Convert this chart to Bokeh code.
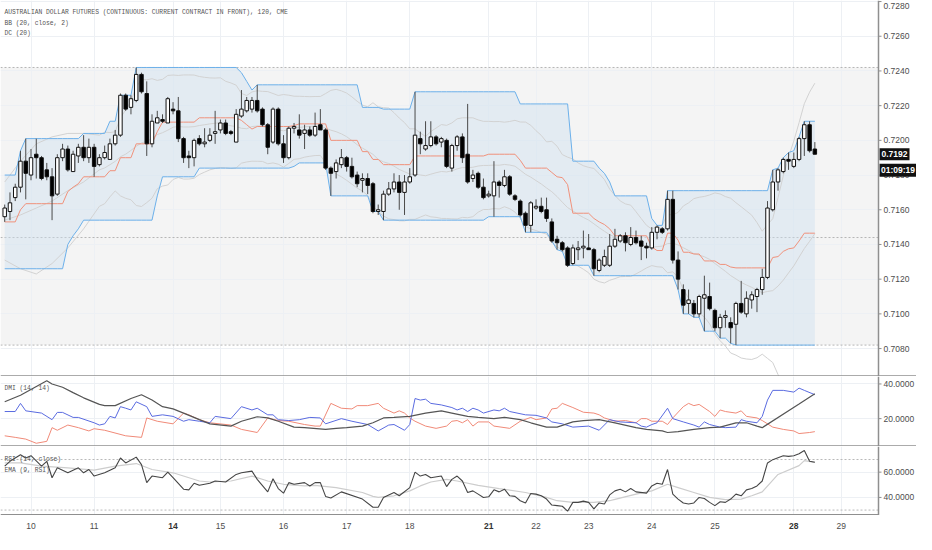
import pandas as pd
from bokeh.plotting import figure
from bokeh.layouts import column
from bokeh.models import (Range1d, FixedTicker, Span, BoxAnnotation, Label, ColumnDataSource)
from bokeh.core.properties import value
from bokeh.embed import file_html
from bokeh.resources import INLINE

# ---------------- data ----------------
opens = [
0.7156,0.7159,0.7167,0.7173,0.7188,0.7180,0.7192,0.7190,0.7183,0.7179,
0.7169,0.7190,0.7195,0.7182,0.7191,0.7196,0.7190,0.7196,0.7186,0.7190,
0.7189,0.7198,0.7203,0.7226,0.7219,0.7223,0.7238,0.7227,0.7198,0.7210,
0.7212,0.7210,0.7218,0.7217,0.7201,0.7191,0.7190,0.7201,0.7198,0.7200,
0.7204,0.7206,0.7210,0.7205,0.7199,0.7214,0.7217,0.7218,0.7223,0.7218,
0.7209,0.7199,0.7218,0.7198,0.7190,0.7207,0.7206,0.7204,0.7206,0.7203,
0.7209,0.7206,0.7184,0.7182,0.7186,0.7190,0.7185,0.7180,0.7177,0.7178,
0.7175,0.7159,0.7159,0.7169,0.7172,0.7176,0.7170,0.7176,0.7180,0.7201,
0.7195,0.7197,0.7202,0.7199,0.7200,0.7184,0.7197,0.7202,0.7192,0.7178,
0.7181,0.7173,0.7168,0.7168,0.7176,0.7174,0.7179,0.7168,0.7165,0.7158,
0.7151,0.7161,0.7162,0.7160,0.7153,0.7143,0.7141,0.7138,0.7129,0.7137,
0.7138,0.7138,0.7137,0.7125,0.7128,0.7128,0.7139,0.7142,0.7145,0.7140,
0.7144,0.7142,0.7139,0.7138,0.7147,0.7149,0.7149,0.7166,0.7131,0.7114,
0.7106,0.7106,0.7100,0.7109,0.7110,0.7102,0.7092,0.7098,0.7095,0.7094,
0.7106,0.7100,0.7108,0.7110,0.7114,0.7121,0.7160,0.7176,0.7182,0.7189,
0.7185,0.7189,0.7201,0.7209,0.7195]
highs = [
0.7163,0.7170,0.7175,0.7194,0.7201,0.7195,0.7201,0.7191,0.7187,0.7184,
0.7192,0.7198,0.7197,0.7194,0.7198,0.7203,0.7201,0.7198,0.7192,0.7197,
0.7201,0.7206,0.7227,0.7227,0.7226,0.7242,0.7239,0.7234,0.7215,0.7217,
0.7215,0.7225,0.7222,0.7225,0.7202,0.7194,0.7201,0.7203,0.7207,0.7207,
0.7217,0.7212,0.7212,0.7206,0.7218,0.7229,0.7225,0.7225,0.7232,0.7219,
0.7210,0.7219,0.7219,0.7203,0.7208,0.7210,0.7215,0.7209,0.7208,0.7216,
0.7218,0.7207,0.7185,0.7189,0.7195,0.7191,0.7190,0.7182,0.7181,0.7181,
0.7176,0.7163,0.7171,0.7176,0.7181,0.7180,0.7180,0.7184,0.7228,0.7205,
0.7211,0.7211,0.7203,0.7202,0.7201,0.7198,0.7203,0.7204,0.7221,0.7183,
0.7182,0.7178,0.7171,0.7188,0.7177,0.7183,0.7180,0.7169,0.7166,0.7159,
0.7165,0.7166,0.7167,0.7167,0.7155,0.7145,0.7142,0.7139,0.7140,0.7142,
0.7148,0.7146,0.7138,0.7132,0.7137,0.7146,0.7149,0.7146,0.7147,0.7150,
0.7148,0.7145,0.7141,0.7150,0.7151,0.7150,0.7171,0.7171,0.7136,0.7117,
0.7114,0.7108,0.7111,0.7122,0.7118,0.7103,0.7100,0.7102,0.7098,0.7107,
0.7119,0.7113,0.7113,0.7115,0.7126,0.7165,0.7183,0.7184,0.7190,0.7193,
0.7193,0.7202,0.7211,0.7211,0.7199]
lows = [
0.7153,0.7154,0.7165,0.7170,0.7166,0.7177,0.7178,0.7177,0.7177,0.7154,
0.7168,0.7188,0.7182,0.7182,0.7187,0.7188,0.7187,0.7179,0.7185,0.7189,
0.7189,0.7197,0.7202,0.7217,0.7215,0.7222,0.7227,0.7191,0.7196,0.7210,
0.7210,0.7210,0.7215,0.7199,0.7187,0.7184,0.7185,0.7197,0.7196,0.7199,
0.7198,0.7204,0.7203,0.7203,0.7199,0.7213,0.7216,0.7216,0.7216,0.7208,
0.7192,0.7198,0.7197,0.7187,0.7189,0.7204,0.7201,0.7195,0.7202,0.7202,
0.7206,0.7183,0.7168,0.7178,0.7184,0.7182,0.7178,0.7173,0.7170,0.7169,
0.7158,0.7157,0.7154,0.7168,0.7170,0.7160,0.7157,0.7175,0.7179,0.7192,
0.7194,0.7196,0.7197,0.7196,0.7184,0.7182,0.7194,0.7187,0.7175,0.7176,
0.7172,0.7166,0.7167,0.7156,0.7167,0.7173,0.7168,0.7165,0.7156,0.7147,
0.7147,0.7160,0.7158,0.7153,0.7141,0.7137,0.7136,0.7127,0.7128,0.7131,
0.7132,0.7137,0.7122,0.7124,0.7127,0.7127,0.7138,0.7141,0.7136,0.7139,
0.7140,0.7131,0.7132,0.7137,0.7143,0.7146,0.7148,0.7129,0.7114,0.7100,
0.7100,0.7098,0.7098,0.7090,0.7102,0.7090,0.7086,0.7092,0.7083,0.7082,
0.7100,0.7098,0.7103,0.7101,0.7111,0.7120,0.7159,0.7171,0.7181,0.7183,
0.7184,0.7188,0.7191,0.7193,0.7192]
closes = [
0.7161,0.7164,0.7173,0.7188,0.7181,0.7190,0.7190,0.7178,0.7179,0.7168,
0.7190,0.7195,0.7183,0.7192,0.7196,0.7190,0.7196,0.7185,0.7190,0.7193,
0.7198,0.7203,0.7226,0.7218,0.7224,0.7238,0.7228,0.7198,0.7211,0.7213,
0.7211,0.7224,0.7217,0.7201,0.7190,0.7190,0.7200,0.7198,0.7199,0.7203,
0.7205,0.7210,0.7204,0.7204,0.7215,0.7218,0.7223,0.7223,0.7217,0.7209,
0.7196,0.7218,0.7198,0.7190,0.7207,0.7208,0.7203,0.7206,0.7203,0.7208,
0.7206,0.7184,0.7181,0.7187,0.7190,0.7185,0.7179,0.7175,0.7178,0.7174,
0.7159,0.7160,0.7169,0.7172,0.7176,0.7170,0.7176,0.7179,0.7203,0.7198,
0.7197,0.7202,0.7198,0.7201,0.7185,0.7197,0.7202,0.7190,0.7176,0.7180,
0.7173,0.7167,0.7169,0.7176,0.7174,0.7179,0.7169,0.7166,0.7157,0.7151,
0.7164,0.7162,0.7159,0.7155,0.7142,0.7141,0.7137,0.7128,0.7138,0.7138,
0.7139,0.7137,0.7126,0.7131,0.7133,0.7139,0.7143,0.7145,0.7141,0.7144,
0.7141,0.7139,0.7138,0.7147,0.7150,0.7147,0.7166,0.7131,0.7120,0.7105,
0.7108,0.7100,0.7110,0.7111,0.7103,0.7092,0.7098,0.7099,0.7092,0.7106,
0.7101,0.7109,0.7111,0.7114,0.7121,0.7161,0.7176,0.7183,0.7189,0.7188,
0.7189,0.7201,0.7209,0.7194,0.7192]

# Donchian channel (20) upper / lower, read per bar
dc_upper = [
0.7180,0.7180,0.7180,0.7194,0.7201,0.7201,0.7201,0.7201,0.7201,0.7201,
0.7201,0.7201,0.7201,0.7201,0.7201,0.7204,0.7204,0.7204,0.7204,0.7204,
0.7211,0.7211,0.7226,0.7226,0.7226,0.7242,0.7242,0.7242,0.7242,0.7242,
0.7242,0.7242,0.7242,0.7242,0.7242,0.7242,0.7242,0.7242,0.7242,0.7242,
0.7242,0.7242,0.7242,0.7242,0.7242,0.7239,0.7234,0.7229,0.7232,0.7232,
0.7232,0.7232,0.7232,0.7232,0.7232,0.7232,0.7232,0.7232,0.7232,0.7232,
0.7232,0.7232,0.7232,0.7232,0.7232,0.7232,0.7232,0.7232,0.7219,0.7219,
0.7219,0.7219,0.7218,0.7218,0.7218,0.7218,0.7218,0.7218,0.7228,0.7228,
0.7228,0.7228,0.7228,0.7228,0.7228,0.7228,0.7228,0.7228,0.7228,0.7228,
0.7228,0.7228,0.7228,0.7228,0.7228,0.7228,0.7228,0.7228,0.7221,0.7221,
0.7221,0.7221,0.7221,0.7221,0.7221,0.7221,0.7221,0.7221,0.7188,0.7188,
0.7188,0.7188,0.7188,0.7184,0.7181,0.7176,0.7168,0.7168,0.7168,0.7168,
0.7168,0.7168,0.7168,0.7155,0.7151,0.7151,0.7171,0.7171,0.7171,0.7171,
0.7171,0.7171,0.7171,0.7171,0.7171,0.7171,0.7171,0.7171,0.7171,0.7171,
0.7171,0.7171,0.7171,0.7171,0.7171,0.7171,0.7183,0.7184,0.7190,0.7193,
0.7194,0.7202,0.7211,0.7211,0.7211]
dc_lower = [
0.7126,0.7126,0.7126,0.7126,0.7126,0.7126,0.7126,0.7126,0.7126,0.7126,
0.7126,0.7126,0.7140,0.7145,0.7149,0.7154,0.7154,0.7154,0.7154,0.7154,
0.7154,0.7154,0.7154,0.7154,0.7154,0.7154,0.7154,0.7154,0.7154,0.7168,
0.7179,0.7179,0.7179,0.7179,0.7179,0.7179,0.7179,0.7184,0.7184,0.7184,
0.7184,0.7184,0.7184,0.7184,0.7184,0.7184,0.7184,0.7184,0.7184,0.7184,
0.7184,0.7184,0.7184,0.7184,0.7184,0.7185,0.7187,0.7187,0.7187,0.7187,
0.7187,0.7187,0.7168,0.7168,0.7168,0.7168,0.7168,0.7168,0.7168,0.7168,
0.7159,0.7159,0.7154,0.7154,0.7154,0.7154,0.7154,0.7154,0.7154,0.7154,
0.7154,0.7154,0.7154,0.7154,0.7154,0.7154,0.7154,0.7154,0.7154,0.7154,
0.7154,0.7154,0.7156,0.7156,0.7156,0.7156,0.7156,0.7156,0.7156,0.7147,
0.7147,0.7147,0.7147,0.7147,0.7142,0.7137,0.7136,0.7128,0.7128,0.7128,
0.7128,0.7128,0.7122,0.7122,0.7122,0.7122,0.7122,0.7122,0.7122,0.7122,
0.7122,0.7122,0.7122,0.7122,0.7122,0.7122,0.7122,0.7122,0.7114,0.7100,
0.7100,0.7098,0.7098,0.7090,0.7090,0.7090,0.7086,0.7086,0.7083,0.7082,
0.7082,0.7082,0.7082,0.7082,0.7082,0.7082,0.7082,0.7082,0.7082,0.7082,
0.7082,0.7082,0.7082,0.7082,0.7082]

# Bollinger values visible at the left edge (before 20 bars of history)
bb_head_idx = [0, 3, 6, 9, 12, 15, 18]
bb_head_mid = [0.7154, 0.7157, 0.7161, 0.7165, 0.7171, 0.7176, 0.7183]
bb_head_up  = [0.7176, 0.7188, 0.7198, 0.7202, 0.7204, 0.7204, 0.7203]
bb_head_lo  = [0.7131, 0.7126, 0.7123, 0.7129, 0.7138, 0.7149, 0.7162]

# DMI (14, 14)
adx_idx = [0,3,8,9,11,13,15,18,19,21,24,26,28,30,32,34,37,39,43,45,48,50,52,55,57,61,63,65,68,70,
           72,74,77,80,83,85,88,90,93,95,98,100,103,105,108,110,113,116,120,122,125,126,128,131,134,136,
           139,141,143,144,151,154]
adx = [29.7,33.5,41.9,40.0,38.1,35.0,32.0,28.2,27.5,27.5,31.6,33.8,30.7,26.9,25.6,23.2,19.4,17.0,15.7,18.5,
       21.1,20.4,18.5,15.1,14.8,13.8,14.4,14.8,15.7,17.6,20.4,20.7,21.3,23.2,24.5,23.2,21.3,20.7,20.0,20.7,
       19.4,17.6,15.1,15.1,18.1,18.9,19.4,17.6,14.8,13.8,12.9,12.0,12.5,13.8,14.8,15.1,17.6,17.6,15.7,14.8,
       28.5,34.4]
pdi_idx = [0,2,3,4,7,9,10,11,13,14,17,18,19,20,21,22,23,24,25,27,28,30,32,34,35,37,39,40,43,45,47,48,
           50,51,52,54,56,58,60,61,64,66,69,71,73,74,76,77,78,79,80,81,83,85,86,87,88,89,90,91,93,94,95,
           96,99,101,103,104,106,108,111,113,115,117,120,121,122,123,124,126,127,129,131,132,133,134,136,
           137,139,140,141,143,144,145,146,148,150,151,152,154]
pdi = [24.1,24.1,28.8,24.5,23.2,19.4,23.6,23.6,20.7,20.7,17.6,16.3,17.0,21.3,20.4,26.9,26.0,25.0,29.7,26.9,
       21.3,22.2,21.3,18.5,19.4,18.5,17.6,21.3,20.0,26.9,25.0,26.0,22.2,22.2,19.4,18.9,19.4,20.7,20.4,17.0,
       20.0,18.5,16.6,12.9,16.3,16.6,13.3,16.6,31.6,30.7,31.2,28.8,27.9,26.4,25.0,26.0,24.1,26.0,25.0,23.2,
       25.0,24.5,26.0,24.1,22.2,21.9,20.4,18.1,17.0,15.1,15.7,13.3,19.4,18.1,17.6,15.7,15.1,16.6,17.6,26.0,
       20.0,18.1,16.3,15.1,18.1,16.6,15.1,14.8,15.1,19.4,18.5,17.6,21.3,30.7,36.3,36.3,35.3,37.6,36.3,33.8]
mdi_idx = [0,2,4,6,8,9,10,12,14,16,17,19,23,26,27,29,32,34,35,37,39,43,45,48,50,52,54,57,59,60,62,64,
           66,67,69,71,72,74,75,76,77,78,80,82,84,85,86,87,88,89,90,92,93,96,98,100,101,103,104,105,106,
           108,110,112,113,114,116,118,120,121,122,123,125,126,127,129,130,131,132,134,135,136,137,139,
           140,141,143,144,146,148,150,151,153,154]
mdi = [10.1,9.2,8.2,5.8,6.9,14.8,13.3,16.3,14.8,12.9,14.2,13.3,10.1,9.2,20.4,18.5,17.0,23.2,22.2,19.4,
       17.6,16.3,13.8,12.0,20.4,18.9,18.5,16.6,15.7,15.7,28.8,26.0,25.6,27.5,27.5,28.8,26.0,23.2,24.5,23.2,
       20.4,18.5,15.7,14.4,15.7,18.5,18.9,17.6,19.4,15.7,18.1,18.1,15.7,14.4,18.5,20.7,19.4,20.4,25.6,26.0,
       28.8,26.4,23.7,23.2,22.2,20.4,18.5,18.9,17.6,20.0,20.0,18.5,18.5,16.6,20.4,26.9,28.8,27.5,28.2,24.1,
       21.3,25.0,24.1,23.2,24.5,21.3,20.4,18.9,15.1,13.8,12.9,11.4,12.0,12.5]

# RSI (14, close) and EMA (9, RSI)
rsi_idx = [0,1,3,4,5,7,8,9,10,12,14,15,16,17,19,21,22,23,25,26,27,28,30,31,32,34,35,36,37,39,40,42,44,
           45,47,48,50,51,52,53,54,55,57,58,59,60,61,62,64,68,70,71,72,74,75,77,78,79,80,81,83,84,85,86,
           87,88,89,90,91,92,93,94,95,96,97,98,99,100,101,102,103,104,105,106,107,108,109,110,111,112,113,
           114,115,116,117,118,119,120,122,123,124,125,126,127,128,129,130,131,132,133,134,135,136,137,
           138,139,140,141,142,143,144,145,146,148,149,150,151,152,153,154]
rsi = [64.7,68.6,73.8,71.2,73.0,64.7,68.6,55.6,63.4,59.5,63.4,59.5,62.1,56.9,59.5,63.4,71.2,67.3,71.9,66.0,
       51.7,56.9,55.6,60.0,55.6,46.5,46.0,51.2,49.6,51.2,53.0,52.2,58.2,59.5,60.8,54.3,44.4,54.8,47.0,43.4,
       51.7,50.4,51.7,49.1,51.7,51.7,40.8,39.5,44.4,38.7,32.2,32.2,40.0,43.9,41.3,47.8,60.0,56.9,58.2,55.6,
       56.9,48.6,54.3,56.9,53.0,43.9,45.2,42.6,40.0,40.5,46.0,44.4,46.5,41.3,40.8,37.4,35.6,43.1,42.6,41.3,
       38.7,34.0,33.5,33.0,29.1,36.1,36.1,37.1,36.1,30.9,35.6,34.8,42.0,45.2,46.5,44.4,47.0,44.4,43.4,49.1,
       51.2,50.4,62.1,42.6,38.7,35.6,34.8,35.6,40.0,39.2,36.1,33.5,36.6,36.1,38.7,42.6,41.3,46.0,47.0,49.1,
       53.0,67.3,69.9,73.0,72.5,73.0,74.5,77.1,68.6,67.8]
ema_idx = [0,3,7,12,17,21,25,28,32,37,39,43,47,50,53,57,59,63,68,70,71,74,77,79,81,84,86,90,94,99,103,
           105,108,112,115,116,120,123,126,128,131,134,137,140,142,144,147,151,152,154]
ema = [67.3,67.3,64.7,63.4,61.6,64.7,66.8,62.1,59.5,53.0,52.2,53.0,56.9,53.0,50.4,49.1,49.6,47.8,43.9,40.8,
       40.0,41.3,45.2,49.1,52.2,54.3,53.0,49.6,47.0,43.9,40.0,37.4,36.1,36.1,37.4,38.5,42.6,45.2,50.4,47.8,
       43.9,40.0,38.2,38.7,41.3,44.4,58.2,65.2,69.1,67.8]

price_ticks = [0.7080, 0.7100, 0.7120, 0.7140, 0.7160, 0.7180, 0.7200, 0.7220, 0.7240, 0.7260, 0.7280]
dmi_ticks = [20, 40]
rsi_ticks = [40, 60]
day_idx = [5, 17, 32, 41, 53, 65, 77, 92, 101, 111, 123, 135, 150, 159]
day_labels = ["10", "11", "14", "15", "16", "17", "18", "21", "22", "23", "24", "25", "28", "29"]
week_start = ["14", "21", "28"]
countdown = "01:09:19"

# ---------------- derived ----------------
N = len(closes)
idx = list(range(N))
dc_mid = [(u + l) / 2 for u, l in zip(dc_upper, dc_lower)]
cs = pd.Series(closes)
m20 = cs.rolling(20).mean()
s20 = cs.rolling(20).std(ddof=0)
bb_x = bb_head_idx + idx[19:]
bb_mid = bb_head_mid + list(m20[19:])
bb_up = bb_head_up + list((m20 + 2 * s20)[19:])
bb_lo = bb_head_lo + list((m20 - 2 * s20)[19:])

# ---------------- styling / geometry ----------------
FW = 916                      # whole page width: plot area + price scale
X0, XA = -0.8, 166.1          # left edge and price-scale position (bar units)
PXU = 878 / (XA - X0)         # pixels per bar
XEND = X0 + FW / PXU
xr = Range1d(X0, XEND)
GRID = "#edf0f4"
AXC = "#8f8f8f"
LBL = "#4d4d4d"
SANS = "Liberation Sans"
MONO = "Liberation Mono"


def panel(h, ymin, ymax, grid_ticks):
    p = figure(frame_width=FW, frame_height=h, x_range=xr, y_range=Range1d(ymin, ymax),
               output_backend="svg", toolbar_location=None, x_axis_location=None,
               y_axis_location=None, min_border=0, outline_line_color=None,
               background_fill_color="white", border_fill_color="white")
    p.xgrid.ticker = FixedTicker(ticks=day_idx)
    p.ygrid.ticker = FixedTicker(ticks=grid_ticks)
    p.xgrid.grid_line_color = GRID
    p.ygrid.grid_line_color = GRID
    # white price-scale area (covers grid / bands right of the plot area)
    p.quad(left=[XA], right=[XEND + 1], bottom=[ymin], top=[ymax],
           fill_color="white", line_color=None)
    return p


def price_scale(p, ymin, ymax, h, ticks, fmt):
    p.segment(x0=[XA] * len(ticks), y0=ticks, x1=[XA + 3 / PXU] * len(ticks), y1=ticks,
              line_color=AXC, line_width=1)
    # keep every label fully inside the panel (the top one sits at the edge)
    lim = ymax - 5.5 * (ymax - ymin) / h
    ly = [min(t, lim) for t in ticks]
    p.text(x=[XA + 5 / PXU] * len(ticks), y=ly, text=[fmt.format(t) for t in ticks],
           text_align="left", text_baseline="middle", text_font=value(SANS),
           text_font_size=value("8.5px"), text_color=LBL)
    p.add_layout(Span(location=XA, dimension="height", line_color=AXC, line_width=1.5))


def separator(p, ymin):
    p.add_layout(Span(location=ymin, dimension="width", line_color=AXC, line_width=2.5))


# ---------------- main price panel ----------------
Y1 = (0.70639, 0.72806)
H1 = 376
p1 = panel(H1, Y1[0], Y1[1], price_ticks)
p1.add_layout(BoxAnnotation(bottom=0.7082, top=0.7242, right=XA, fill_color="#f4f4f4",
                            fill_alpha=1.0, line_alpha=0, level="image"))
for lv in (0.7242, 0.7144, 0.7082):
    p1.segment(x0=[X0], y0=[lv], x1=[XA], y1=[lv], line_color="#b5b5b5",
               line_dash="2 2", line_width=1)

p1.varea(x=idx, y1=dc_lower, y2=dc_upper, fill_color="#cfe0ef", fill_alpha=0.45)
for arr in (bb_up, bb_mid, bb_lo):
    p1.line(bb_x, arr, line_color="#d2d2d2", line_width=1)
p1.line(idx, dc_upper, line_color="#6cb0ea", line_width=1)
p1.line(idx, dc_lower, line_color="#6cb0ea", line_width=1)
p1.line(idx, dc_mid, line_color="#f0917b", line_width=1)

tops = [max(o, c) for o, c in zip(opens, closes)]
bots = [min(o, c) for o, c in zip(opens, closes)]
cols = ["white" if c >= o else "black" for o, c in zip(opens, closes)]
csrc = ColumnDataSource(dict(x=idx, o=opens, h=highs, l=lows, c=closes, top=tops, bot=bots, col=cols))
p1.segment(x0="x", y0="l", x1="x", y1="h", source=csrc, line_color="#4a4a4a", line_width=1)
p1.vbar(x="x", width=0.66, top="top", bottom="bot", source=csrc, fill_color="col",
        line_color="#111111", line_width=1)

price_scale(p1, Y1[0], Y1[1], H1, price_ticks, "{:.4f}")

# last price and bar countdown boxes on the price scale
last = closes[-1]
p1.rect(x=[XA + 16 / PXU], y=[last], width=30, height=12, width_units="screen",
        height_units="screen", fill_color="#111111", line_color=None)
p1.text(x=[XA + 16 / PXU], y=[last], text=[f"{last:.4f}"], text_align="center",
        text_baseline="middle", text_font=value(SANS), text_font_size=value("8.5px"),
        text_font_style="bold", text_color="white")
cd_y = last - 16 * (Y1[1] - Y1[0]) / H1
p1.rect(x=[XA + 19.5 / PXU], y=[cd_y], width=37, height=13, width_units="screen",
        height_units="screen", fill_color="#111111", line_color=None)
p1.text(x=[XA + 19.5 / PXU], y=[cd_y], text=[countdown], text_align="center",
        text_baseline="middle", text_font=value(SANS), text_font_size=value("8.5px"),
        text_font_style="bold", text_color="white")

for yv, txt in ((0.72735, "AUSTRALIAN DOLLAR FUTURES (CONTINUOUS: CURRENT CONTRACT IN FRONT), 120, CME"),
                (0.72672, "BB (20, close, 2)"), (0.72614, "DC (20)")):
    p1.add_layout(Label(x=-0.05, y=yv, text=txt, text_font=MONO, text_font_size="6.3px",
                        text_color="#555555", text_baseline="middle"))
separator(p1, Y1[0])

# ---------------- DMI panel ----------------
Y2 = (3.93, 44.3)
p2 = panel(70, Y2[0], Y2[1], dmi_ticks)
p2.line(mdi_idx, mdi, line_color="#f08a78", line_width=1)
p2.line(pdi_idx, pdi, line_color="#5a6be0", line_width=1)
p2.line(adx_idx, adx, line_color="#555555", line_width=1.2)
price_scale(p2, Y2[0], Y2[1], 70, dmi_ticks, "{:.4f}")
p2.add_layout(Label(x=-0.05, y=37.2, text="DMI (14, 14)", text_font=MONO, text_font_size="6.3px",
                    text_color="#555555", text_baseline="middle"))
separator(p2, Y2[0])

# ---------------- RSI panel ----------------
Y3 = (25.7, 80.3)
p3 = panel(69, Y3[0], Y3[1], rsi_ticks)
for lv in (70, 30):
    p3.segment(x0=[X0], y0=[lv], x1=[XA], y1=[lv], line_color="#b8b8b8",
               line_dash="2 2", line_width=1)
p3.line(ema_idx, ema, line_color="#cdcdcd", line_width=1.2)
p3.line(rsi_idx, rsi, line_color="#454545", line_width=1.1)
price_scale(p3, Y3[0], Y3[1], 69, rsi_ticks, "{:.4f}")
p3.add_layout(Label(x=-0.05, y=70.4, text="RSI (14, close)", text_font=MONO, text_font_size="6.3px",
                    text_color="#555555", text_baseline="middle"))
p3.add_layout(Label(x=-0.05, y=61.6, text="EMA (9, RSI)", text_font=MONO, text_font_size="6.3px",
                    text_color="#555555", text_baseline="middle"))
p3.segment(x0=[X0], y0=[Y3[0]], x1=[XA], y1=[Y3[0]], line_color=AXC, line_width=3)

# ---------------- time axis strip ----------------
p4 = figure(frame_width=FW, frame_height=19, x_range=xr, y_range=Range1d(0, 1),
            output_backend="svg", toolbar_location=None, x_axis_location=None,
            y_axis_location=None, min_border=0, outline_line_color=None,
            background_fill_color="white", border_fill_color="white")
p4.grid.visible = False
styles = ["bold" if d in week_start else "normal" for d in day_labels]
tcols = ["#333333" if d in week_start else LBL for d in day_labels]
dsrc = ColumnDataSource(dict(x=day_idx, y=[0.45] * len(day_idx), t=day_labels, s=styles, c=tcols))
p4.text(x="x", y="y", text="t", source=dsrc, text_align="center", text_baseline="middle",
        text_font=value(SANS), text_font_size=value("8.5px"), text_font_style="s", text_color="c")

layout = column(p1, p2, p3, p4, spacing=0)
open("out.html", "w").write(file_html(layout, INLINE))
